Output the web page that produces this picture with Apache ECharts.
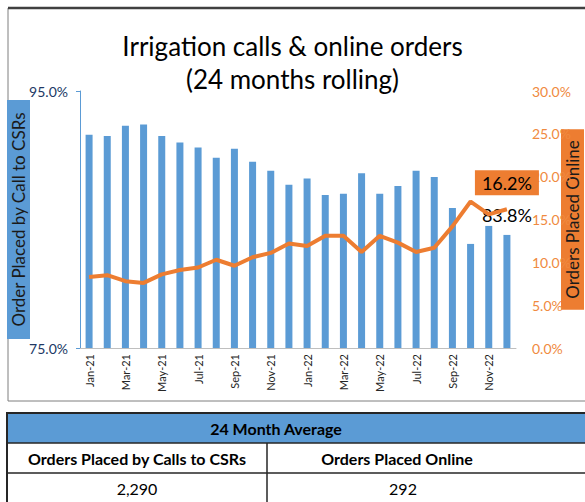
<!DOCTYPE html>
<html>
<head>
<meta charset="utf-8">
<script src="https://cdn.jsdelivr.net/npm/echarts@6/dist/echarts.min.js"></script>
<style>
  html, body { margin: 0; padding: 0; background: #fff; }
  #chart { width: 585px; height: 502px; }
</style>
</head>
<body>
<div id="chart"></div>
<script>
const months = ['Jan-21', 'Feb-21', 'Mar-21', 'Apr-21', 'May-21', 'Jun-21', 'Jul-21', 'Aug-21', 'Sep-21', 'Oct-21', 'Nov-21', 'Dec-21',
  'Jan-22', 'Feb-22', 'Mar-22', 'Apr-22', 'May-22', 'Jun-22', 'Jul-22', 'Aug-22', 'Sep-22', 'Oct-22', 'Nov-22', 'Dec-22']
// share of orders placed by calls to CSRs (%)
const callShare = [91.6, 91.5, 92.3, 92.4, 91.5, 91.0, 90.6, 89.8, 90.5, 89.5, 88.8, 87.7,
  88.2, 86.9, 87.0, 88.6, 87.0, 87.6, 88.8, 88.3, 85.9, 83.1, 84.5, 83.8]
// share of orders placed online (%)
const onlineShare = [8.3, 8.5, 7.8, 7.6, 8.6, 9.1, 9.4, 10.3, 9.6, 10.6, 11.1, 12.2,
  11.9, 13.1, 13.1, 11.2, 13.1, 12.3, 11.2, 11.7, 14.2, 17.1, 15.6, 16.2]
const tableHeader = '24 Month Average'
const tableCols = ['Orders Placed by Calls to CSRs', 'Orders Placed Online']
const tableVals = ['2,290', '292']

const font = 'Lato, "Liberation Sans", sans-serif'
const blue = '#5B9BD5'
const orange = '#ED7D31'

const myChart = echarts.init(document.getElementById('chart'), null, { renderer: 'svg' })

const last = callShare.length - 1
const barData = callShare.map((v, i) => i === last ? {
  value: v,
  label: { show: true, position: 'top', distance: 11, formatter: v.toFixed(1) + '%', fontSize: 18, color: '#000', fontFamily: font }
} : v)
const lineData = onlineShare.map((v, i) => i === last ? {
  value: v,
  label: {
    show: true, position: 'top', distance: 14, formatter: v.toFixed(1) + '%', fontSize: 18, color: '#000',
    fontFamily: font, backgroundColor: orange, padding: [4, 7, 3, 7]
  }
} : v)

const options = {
  animation: false,
  textStyle: { fontFamily: font },
  title: {
    text: 'Irrigation calls & online orders\n(24 months rolling)',
    left: 'center',
    top: 24,
    textStyle: { fontSize: 26, fontWeight: 'normal', color: '#000', lineHeight: 33, fontFamily: font }
  },
  grid: { left: 80, right: 69, top: 91, bottom: 154, containLabel: false, outerBoundsMode: 'none' },
  xAxis: {
    type: 'category',
    data: months,
    axisLine: { lineStyle: { color: '#BFBFBF' } },
    axisTick: { interval: 1, length: 5, lineStyle: { color: '#BFBFBF' } },
    axisLabel: { interval: 1, rotate: 90, fontSize: 11, color: '#262626', margin: 6 }
  },
  yAxis: [
    {
      type: 'value',
      min: 75, max: 95, interval: 20,
      name: 'Order Placed by Call to CSRs',
      nameLocation: 'middle',
      nameRotate: 90,
      nameGap: 50,
      nameMoveOverlap: false,
      nameTextStyle: { backgroundColor: blue, color: '#1a1a1a', fontSize: 17, padding: [3, 12, 3, 12] },
      axisLine: { show: true, lineStyle: { color: blue } },
      axisTick: { show: true, length: 4, lineStyle: { color: blue } },
      axisLabel: { formatter: v => v.toFixed(1) + '%', color: '#203864', fontSize: 14, margin: 12 },
      splitLine: { show: false }
    },
    {
      type: 'value',
      min: 0, max: 30, interval: 5,
      name: 'Orders Placed Online',
      nameLocation: 'middle',
      nameRotate: 90,
      nameGap: 45,
      nameMoveOverlap: false,
      nameTextStyle: { backgroundColor: orange, color: '#1a1a1a', fontSize: 17, padding: [3, 11, 3, 11] },
      axisLine: { show: false },
      axisTick: { show: false },
      axisLabel: { formatter: v => v.toFixed(1) + '%', color: '#F08A40', fontSize: 14, margin: 16 },
      splitLine: { show: false }
    }
  ],
  series: [
    {
      name: 'Calls to CSRs',
      type: 'bar',
      barWidth: 7,
      itemStyle: { color: blue },
      emphasis: { disabled: true },
      data: barData
    },
    {
      name: 'Online',
      type: 'line',
      yAxisIndex: 1,
      symbol: 'circle',
      symbolSize: 0,
      showSymbol: true,
      lineStyle: { width: 4, color: orange },
      itemStyle: { color: orange },
      emphasis: { disabled: true },
      z: 5,
      data: lineData
    }
  ],
  graphic: [
    // chart frame
    { type: 'rect', shape: { x: 8, y: 8, width: 600, height: 393 }, style: { fill: 'none', stroke: '#7F7F7F', lineWidth: 1 }, silent: true },
    { type: 'line', shape: { x1: 8, y1: 8, x2: 600, y2: 8 }, style: { stroke: '#404040', lineWidth: 2.5 }, silent: true },
    // summary table
    { type: 'rect', shape: { x: 7, y: 413, width: 600, height: 30 }, style: { fill: blue, stroke: 'none' }, silent: true },
    { type: 'rect', shape: { x: 7, y: 413, width: 600, height: 100 }, style: { fill: 'none', stroke: '#262626', lineWidth: 2 }, silent: true },
    { type: 'line', shape: { x1: 7, y1: 443, x2: 600, y2: 443 }, style: { stroke: '#262626', lineWidth: 1.5 }, silent: true },
    { type: 'line', shape: { x1: 7, y1: 473, x2: 600, y2: 473 }, style: { stroke: '#262626', lineWidth: 1.5 }, silent: true },
    { type: 'line', shape: { x1: 267, y1: 443, x2: 267, y2: 510 }, style: { stroke: '#262626', lineWidth: 1.5 }, silent: true },
    { type: 'text', x: 276, y: 428, style: { text: tableHeader, font: 'bold 16px ' + font, fill: '#000', align: 'center', verticalAlign: 'middle' }, silent: true },
    { type: 'text', x: 137, y: 458, style: { text: tableCols[0], font: 'bold 16px ' + font, fill: '#000', align: 'center', verticalAlign: 'middle' }, silent: true },
    { type: 'text', x: 397, y: 458, style: { text: tableCols[1], font: 'bold 16px ' + font, fill: '#000', align: 'center', verticalAlign: 'middle' }, silent: true },
    { type: 'text', x: 137, y: 488, style: { text: tableVals[0], font: '16px ' + font, fill: '#000', align: 'center', verticalAlign: 'middle' }, silent: true },
    { type: 'text', x: 403, y: 488, style: { text: tableVals[1], font: '16px ' + font, fill: '#000', align: 'center', verticalAlign: 'middle' }, silent: true }
  ]
}
myChart.setOption(options)
</script>
</body>
</html>
